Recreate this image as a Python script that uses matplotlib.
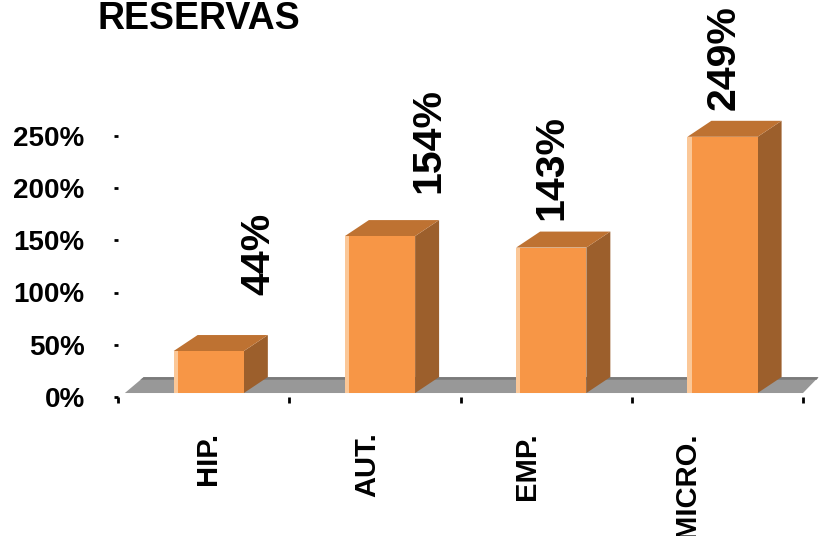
import matplotlib
matplotlib.use("Agg")
import matplotlib.pyplot as plt
from matplotlib.patches import Polygon, Rectangle

plt.rcParams['font.family'] = ['Liberation Sans', 'DejaVu Sans']
plt.rcParams['font.weight'] = 'bold'

categories = ['HIP.', 'AUT.', 'EMP.', 'MICRO.']
values = [44, 154, 143, 249]
value_labels = ['44%', '154%', '143%', '249%']
yticks = [0, 50, 100, 150, 200, 250]

# placement of the rotated value labels (x inside the category, gap above the bar)
label_dx = [0.818, 0.812, 0.532, 0.537]
label_gap = [53.6, 41, 26.4, 25.6]

front_c = '#F79646'
top_c = '#BE7232'
side_c = '#9C5F2C'
hi_c = '#FBC797'

fig = plt.figure(figsize=(8.19, 5.36), dpi=100)
ax = fig.add_axes([118 / 819, (536 - 397) / 536, 685 / 819, 313.5 / 536])
ax.set_xlim(0, 4)
ax.set_ylim(0, 300)
for s in ax.spines.values():
    s.set_visible(False)

# floor
base = 3.8
fdy = 15.2
ax.add_patch(Polygon([(0.04, base), (4.0, base), (4.09, base + fdy), (0.15, base + fdy)],
                     closed=True, facecolor='#989898', edgecolor='none', zorder=1, clip_on=False))
ax.add_patch(Polygon([(0.13, base + fdy - 2.5), (4.08, base + fdy - 2.5), (4.09, base + fdy), (0.15, base + fdy)],
                     closed=True, facecolor='#7A7A7A', edgecolor='none', zorder=1, clip_on=False))

w = 0.41
dx = 0.14
dy = 15.3
for i, v in enumerate(values):
    x0 = i + 0.53 - w / 2
    ax.add_patch(Polygon([(x0 + w, base), (x0 + w + dx, base + dy), (x0 + w + dx, v + dy), (x0 + w, v)],
                         closed=True, facecolor=side_c, edgecolor='none', zorder=3, clip_on=False))
    ax.add_patch(Polygon([(x0, v), (x0 + w, v), (x0 + w + dx, v + dy), (x0 + dx, v + dy)],
                         closed=True, facecolor=top_c, edgecolor='none', zorder=3, clip_on=False))
    ax.add_patch(Rectangle((x0, base), w, v - base, facecolor=front_c, edgecolor='none', zorder=4))
    ax.add_patch(Rectangle((x0, base), 0.025, v - base, facecolor=hi_c, edgecolor='none', zorder=5))
    ax.text(i + label_dx[i], v + label_gap[i], value_labels[i], rotation=90, ha='center', va='bottom',
            fontsize=29.5, fontweight='bold', zorder=6, clip_on=False)
    ax.text(0.526 + 0.932 * i, -33.5, categories[i], rotation=90, ha='center', va='top',
            fontsize=21, fontweight='bold', clip_on=False)

ax.set_yticks(yticks)
ax.set_yticklabels(['%d%%' % t for t in yticks], fontsize=20, fontweight='bold')
ax.set_xticks([0, 1, 2, 3, 4])
ax.set_xticklabels([])
ax.tick_params(axis='y', length=3, width=2, pad=21)
ax.tick_params(axis='x', length=4, width=2)

fig.text(97 / 819, 1 - 29 / 536, 'RESERVAS', fontsize=27, fontweight='bold', va='baseline')

fig.savefig('out.png', dpi=100)
